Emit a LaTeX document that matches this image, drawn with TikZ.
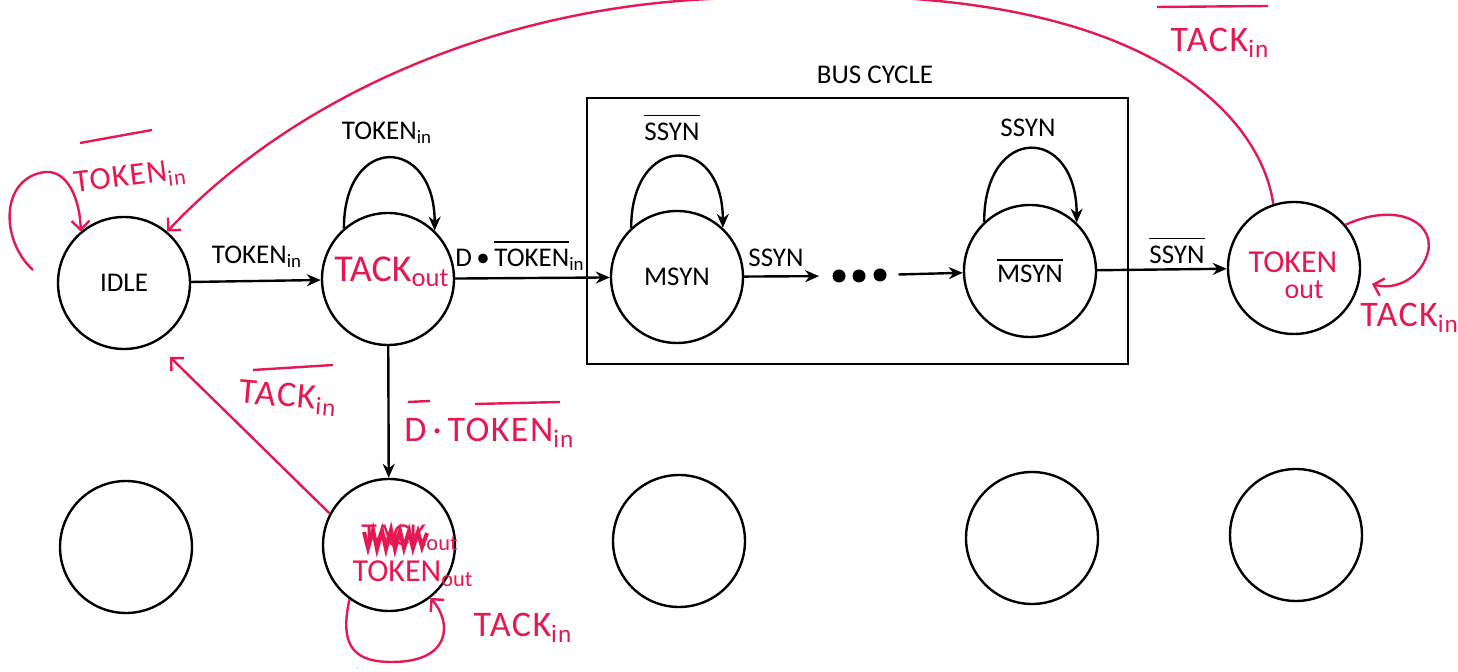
\documentclass[tikz,border=0pt]{standalone}
\usepackage{fontspec}
\setmainfont{Carlito}
\usetikzlibrary{arrows.meta}
\definecolor{pen}{RGB}{228,24,82}
\newcommand{\ovk}[2][3.5pt]{\vbox{\hrule height 0.65pt\kern#1\hbox{#2}}}
\tikzset{
  st/.style={circle, draw, line width=1.2pt, minimum size=66pt, inner sep=0pt, font=\fontsize{13.5}{15}\selectfont},
  lbl/.style={font=\fontsize{13.5}{15}\selectfont, inner sep=0pt},
  arr/.style={line width=1.2pt, -{Stealth[length=7pt,width=6pt]}},
  penarr/.style={draw=pen, line width=1.2pt, -{Straight Barb[length=4.5pt,width=9pt]}},
  penline/.style={draw=pen, line width=1.2pt},
  hand/.style={text=pen, font=\fontsize{18}{20}\selectfont\addfontfeatures{LetterSpace=4}, inner sep=0pt},
  dotn/.style={circle, fill=black, inner sep=0pt, minimum size=6.5pt},
}
\begin{document}
\begin{tikzpicture}[x=0.5pt,y=-0.5pt]
\useasboundingbox (0,0) rectangle (1458,672);
\clip (0,0) rectangle (1458,672);
% states
\node[st] (idle) at (124,283) {IDLE};
\node[st] (tack) at (388,279) {};
\node[st] (m1) at (677,277) {MSYN};
\node[st] (m2) at (1030,271) {\ovk[2pt]{MSYN}};
\node[st] (tok) at (1294,268) {};
\node[st] (b1) at (126,547) {};
\node[st] (b2) at (389,545) {};
\node[st] (b3) at (679,541) {};
\node[st] (b4) at (1032,538) {};
\node[st] (b5) at (1296,535) {};
% bus cycle box
\node[draw, line width=1.4pt, minimum width=270.5pt, minimum height=133pt, inner sep=0pt] (bus) at (857.5,231) {};
\node[lbl] (buslbl) at (875,75) {BUS CYCLE};
% dots
\node[dotn] (d1) at (839,276) {};
\node[dotn] (d2) at (859,276) {};
\node[dotn] (d3) at (880,275) {};
% black transitions
\draw[arr] (idle) -- (tack);
\node[lbl] (l1) at (257,257) {TOKEN\textsubscript{in}};
\draw[arr] (tack) -- (m1);
\node[lbl] (l2) at (520,256) {D\,•\,\ovk[3pt]{TOKEN}\textsubscript{in}};
\draw[arr, shorten >=6.5pt] (m1) -- (d1);
\node[lbl] (l3) at (776,258) {SSYN};
\draw[arr, shorten <=5.8pt] (d3) -- (m2);
\draw[arr] (m2) -- (tok);
\node[lbl] (l4) at (1177,251) {\ovk{SSYN}};
\draw[arr] (tack) -- (b2);
% self loops
\draw[arr] (tack.131) .. controls +(0,-95) and +(0,-95) .. (tack.46);
\node[lbl] (l5) at (387,133) {TOKEN\textsubscript{in}};
\draw[arr] (m1.133) .. controls +(0,-95) and +(0,-95) .. (m1.47);
\node[lbl] (l6) at (672,128) {\ovk{SSYN}};
\draw[arr] (m2.133) .. controls +(0,-98) and +(0,-98) .. (m2.46);
\node[lbl] (l7) at (1028,128) {SSYN};
% red annotations: texts in states
\node[hand, font=\fontsize{19}{20}\selectfont] (t1) at (392,272) {TACK\textsubscript{out}};
\node[hand, font=\fontsize{16}{18}\selectfont] (t2) at (1293,262) {TOKEN};
\node[hand, font=\fontsize{14}{16}\selectfont] (t3) at (1304,290) {out};
\node[hand, font=\fontsize{16}{18}\selectfont] (t4) at (410,538) {TACK\textsubscript{out}};
\draw[pen, line width=2pt] (364,532) -- (368,548) -- (373,530) -- (377,549) -- (382,531) -- (386,549) -- (391,530) -- (395,549) -- (400,531) -- (404,548) -- (409,531) -- (413,548) -- (418,532) -- (422,547) -- (427,533);
\node[hand, font=\fontsize{16}{18}\selectfont] (t5) at (413,574) {TOKEN\textsubscript{out}};
% red transitions
\coordinate (c1) at (33,270);
\draw[penarr] (c1) .. controls (0,240) and (0,178) .. (45,172) .. controls (68,170) and (80,200) .. (idle.130);
\node[hand, rotate=7, font=\fontsize{16}{18}\selectfont\addfontfeatures{LetterSpace=4}] (r1) at (130,178) {TOKEN\textsubscript{in}};
\draw[penline] (80,143) -- (152,130);
\draw[penarr] (tok.108) .. controls (1262,120) and (1150,-22) .. (760,-2) .. controls (520,-4) and (300,90) .. (idle.50);
\node[hand] (r2) at (1220,43) {TACK\textsubscript{in}};
\draw[penline] (1157,7) -- (1268,6);
\coordinate (c2) at (170,357);
\draw[penarr] (b2.152) -- (c2);
\node[hand, rotate=-5] (r3) at (288,398) {TACK\textsubscript{in}};
\draw[penline] (253,370) -- (333,365);
\node[hand, anchor=west] (r4) at (404,433) {D\,·\,TOKEN\textsubscript{in}};
\draw[penline] (408,402) -- (430,401);
\draw[penline] (475,404) -- (560,402);
\draw[penarr] (b2.234) .. controls (338,650) and (358,662) .. (392,662) .. controls (452,662) and (452,622) .. (b2.-52);
\node[hand] (r5) at (523,628) {TACK\textsubscript{in}};
\draw[penarr] (tok.40) .. controls (1400,200) and (1440,225) .. (1426,258) .. controls (1416,282) and (1392,290) .. (1372,284);
\node[hand, anchor=west] (r6) at (1360,318) {TACK\textsubscript{in}};
\end{tikzpicture}
\end{document}
